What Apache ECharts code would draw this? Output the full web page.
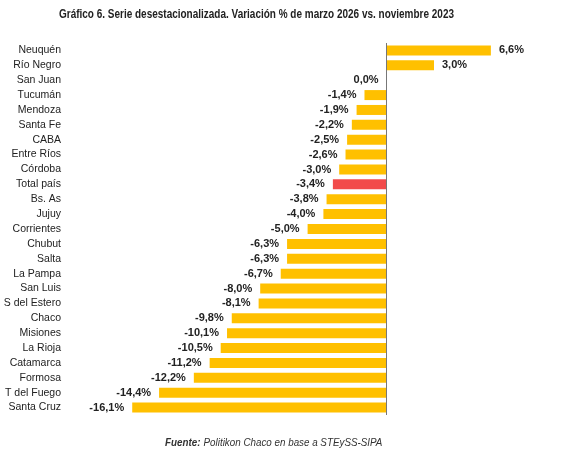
<!DOCTYPE html>
<html>
<head>
<meta charset="utf-8">
<script src="https://cdn.jsdelivr.net/npm/echarts@6/dist/echarts.min.js"></script>
<style>
  html, body { margin: 0; padding: 0; background: #fff; }
  #chart-container { width: 573px; height: 467px; }
</style>
</head>
<body>
<div id="chart-container"></div>
<script>
var provincias = ['Neuquén', 'Río Negro', 'San Juan', 'Tucumán', 'Mendoza', 'Santa Fe', 'CABA',
    'Entre Ríos', 'Córdoba', 'Total país', 'Bs. As', 'Jujuy', 'Corrientes', 'Chubut', 'Salta',
    'La Pampa', 'San Luis', 'S del Estero', 'Chaco', 'Misiones', 'La Rioja', 'Catamarca',
    'Formosa', 'T del Fuego', 'Santa Cruz'];
var variacion = [6.6, 3.0, 0.0, -1.4, -1.9, -2.2, -2.5, -2.6, -3.0, -3.4, -3.8, -4.0, -5.0,
    -6.3, -6.3, -6.7, -8.0, -8.1, -9.8, -10.1, -10.5, -11.2, -12.2, -14.4, -16.1];
var destacado = 'Total país';
var titulo = 'Gráfico 6. Serie desestacionalizada. Variación % de marzo 2026 vs. noviembre 2023';
var fuente = 'Politikon Chaco en base a STEySS-SIPA';

var chartDom = document.getElementById('chart-container');
var myChart = echarts.init(chartDom);

// narrow font not available: squeeze the text horizontally
var ctx = document.createElement('canvas').getContext('2d');
ctx.font = 'bold 13px "Liberation Sans"';
var titleScale = 395 / ctx.measureText(titulo).width;
ctx.font = 'italic bold 10.5px "Liberation Sans"';
var fw = ctx.measureText('Fuente: ').width;
ctx.font = 'italic 10.5px "Liberation Sans"';
fw += ctx.measureText(fuente).width;
var footScale = 217 / fw;

var barData = [];
for (let i = 0; i < variacion.length; i++) {
    barData.push({
        value: variacion[i],
        itemStyle: { color: provincias[i] === destacado ? '#F24B4B' : '#FFC000' },
        label: { position: variacion[i] > 0 ? 'right' : 'left' }
    });
}

var option = {
    animation: false,
    graphic: [
        {
            type: 'text',
            x: 59,
            y: 8,
            scaleX: titleScale,
            style: {
                text: titulo,
                font: 'bold 13px "Liberation Sans"',
                fill: '#222'
            }
        },
        {
            type: 'text',
            x: 165,
            y: 437,
            scaleX: footScale,
            style: {
                text: '{b|Fuente:} {i|' + fuente + '}',
                rich: {
                    b: { fontFamily: 'Liberation Sans', fontSize: 10.5, fontWeight: 'bold', fontStyle: 'italic', fill: '#333' },
                    i: { fontFamily: 'Liberation Sans', fontSize: 10.5, fontStyle: 'italic', fill: '#333' }
                }
            }
        }
    ],
    grid: { left: 118, right: 60, top: 43, bottom: 52, containLabel: false },
    xAxis: {
        type: 'value',
        min: -17,
        max: 8,
        show: false
    },
    yAxis: {
        type: 'category',
        data: provincias,
        inverse: true,
        axisLine: { show: false },
        axisTick: { show: false },
        axisLabel: {
            margin: 57,
            fontFamily: 'Liberation Sans',
            fontSize: 10.5,
            color: '#222'
        }
    },
    series: [
        {
            type: 'bar',
            data: barData,
            barWidth: 10,
            label: {
                show: true,
                distance: 8,
                fontFamily: 'Liberation Sans',
                fontSize: 11,
                fontWeight: 'bold',
                color: '#222',
                formatter: function (p) {
                    return p.value.toFixed(1).replace('.', ',') + '%';
                }
            },
            markLine: {
                silent: true,
                symbol: 'none',
                label: { show: false },
                lineStyle: { color: '#777', width: 1, type: 'solid' },
                data: [{ xAxis: 0 }]
            }
        }
    ]
};

myChart.setOption(option);
</script>
</body>
</html>
